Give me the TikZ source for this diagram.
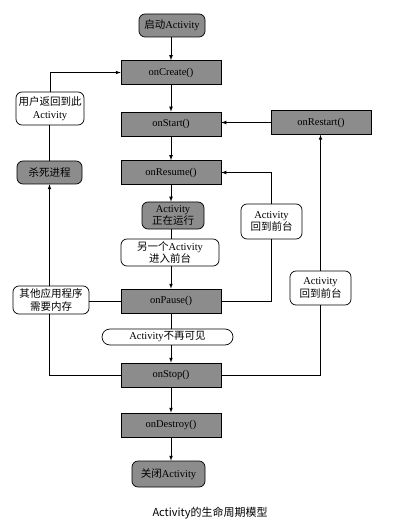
\documentclass[tikz,border=0pt]{standalone}
\usepackage{fontspec}
\setmainfont{Liberation Serif}
\newfontfamily\cjk{Noto Sans CJK SC}
\usetikzlibrary{shapes,arrows,positioning}
\definecolor{boxgray}{RGB}{140,140,140}
\tikzstyle{proc} = [rectangle, draw, fill=boxgray, minimum width=100pt, minimum height=24pt, inner sep=1pt]
\tikzstyle{term} = [rectangle, rounded corners=6pt, draw, fill=boxgray, align=center, inner sep=1pt]
\tikzstyle{note} = [rectangle, rounded corners=6pt, draw, fill=white, align=center, inner sep=1pt]
\tikzstyle{line} = [draw]
\tikzstyle{arr} = [draw, -latex]

\begin{document}
\begin{tikzpicture}[x=1pt, y=-1pt, line width=0.7pt,
    every node/.style={font=\fontsize{10.5}{12.5}\selectfont}]
			\useasboundingbox (0,0) rectangle (416,529);

			\node [term, minimum width=66pt, minimum height=23pt] (start) at (172, 25.5) {{\cjk 启动}Activity};
			\node [proc] (create) at (171, 72.5) {onCreate()};
			\node [proc] (start2) at (171, 124) {onStart()};
			\node [proc] (restart) at (321, 122.5) {onRestart()};
			\node [proc] (resume) at (171, 172.5) {onResume()};
			\node [term, minimum width=62pt, minimum height=27pt] (run) at (173, 215.5) {Activity\\{\cjk 正在运行}};
			\node [note, minimum width=98pt, minimum height=27pt] (other) at (170, 252.5) {{\cjk 另一个}Activity\\{\cjk 进入前台}};
			\node [proc] (pause) at (171, 301) {onPause()};
			\node [note, rounded corners=8pt, minimum width=131pt, minimum height=16pt] (invis) at (167.5, 337) {Activity{\cjk 不再可见}};
			\node [proc] (stop) at (171, 375) {onStop()};
			\node [proc] (destroy) at (171, 425) {onDestroy()};
			\node [term, minimum width=73pt, minimum height=26pt] (close) at (168.5, 474) {{\cjk 关闭}Activity};

			\node [note, minimum width=68pt, minimum height=33pt] (back) at (50, 108.5) {{\cjk 用户返回到此}\\Activity};
			\node [term, minimum width=65pt, minimum height=23pt] (kill) at (49.5, 172.5) {{\cjk 杀死进程}};
			\node [note, minimum width=76pt, minimum height=28pt] (mem) at (51, 300) {{\cjk 其他应用程序}\\{\cjk 需要内存}};
			\node [note, minimum width=61pt, minimum height=35pt] (fore1) at (271.5, 221.5) {Activity\\{\cjk 回到前台}};
			\node [note, minimum width=61pt, minimum height=34pt] (fore2) at (320.5, 288) {Activity\\{\cjk 回到前台}};

			\node (cap) at (210, 513) {\cjk\fontsize{11}{13}\selectfont Activity的生命周期模型};

			% main column
			\path [arr] (create.north |- start.south) -- (create);
			\path [arr] (create) -- (start2);
			\path [arr] (start2) -- (resume);
			\path [arr] (resume) -- (resume |- run.north);
			\path [line] (run.south -| resume) -- (resume |- other.north);
			\path [arr] (resume |- other.south) -- (pause);
			\path [line] (pause) -- (pause |- invis.north);
			\path [arr] (pause |- invis.south) -- (stop);
			\path [arr] (stop) -- (destroy);
			\path [arr] (destroy) -- (destroy |- close.north);

			% right side
			\path [arr] (restart) -- (restart -| start2.east);
			\path [line] (pause.east) -| (fore1.south);
			\path [arr] (fore1.north) |- (resume.east);
			\path [line] (stop.east) -| (fore2.south);
			\path [arr] (fore2.north) -- (fore2.north |- restart.south);

			% left side
			\path [line] (stop.west) -| (kill.south |- mem.south);
			\path [line] (pause.west) -- (pause.west -| mem.east);
			\path [arr] (kill.south |- mem.north) -- (kill.south);
			\path [line] (kill.north) -- (kill.north |- back.south);
			\path [arr] (back.north) |- (create.west);
		\end{tikzpicture}
\end{document}
